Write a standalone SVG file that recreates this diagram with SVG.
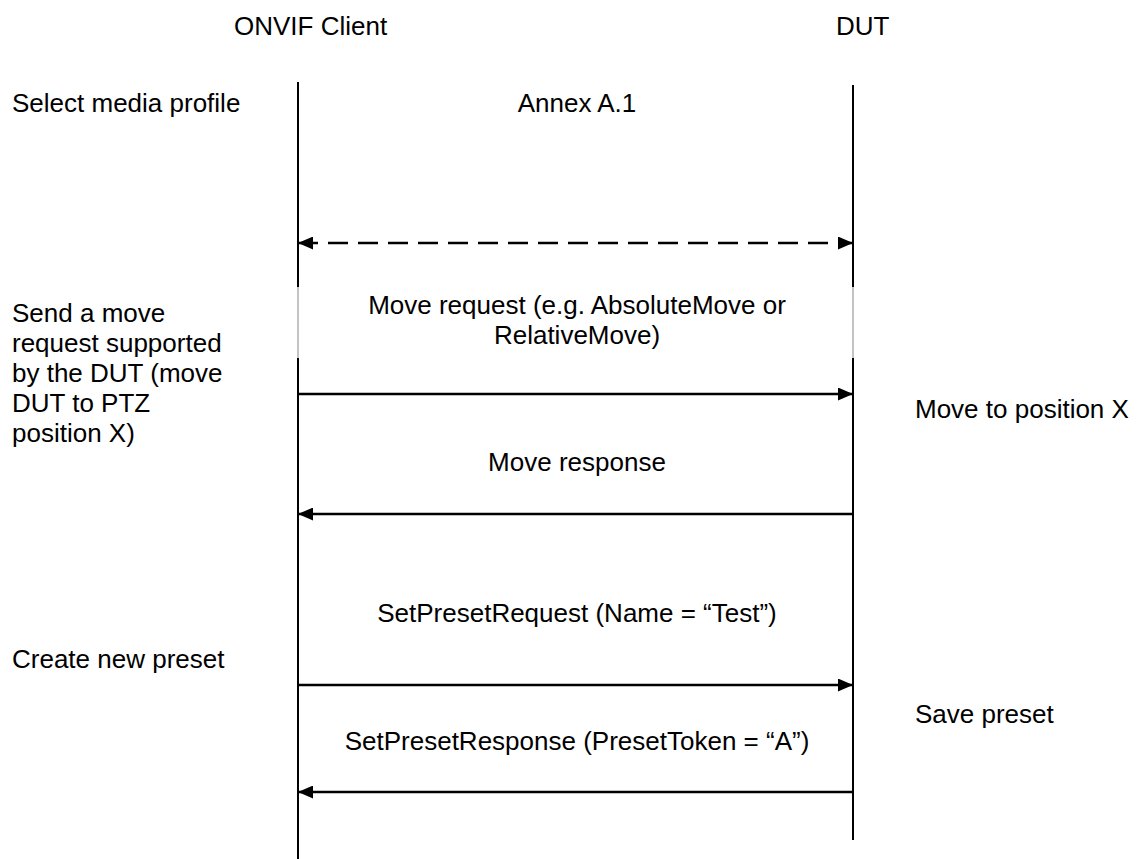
<svg xmlns="http://www.w3.org/2000/svg" width="1141" height="859" viewBox="0 0 1141 859">
<style>
  text { font-family: "Liberation Sans", Arial, sans-serif; font-size: 26px; fill: #000; }
  .mid { text-anchor: middle; }
  .life { stroke: #000; stroke-width: 2; fill: none; }
  .thin { stroke: #888; stroke-width: 1; fill: none; }
  .msg { stroke: #000; stroke-width: 2.5; fill: none; }
  .dash { stroke: #000; stroke-width: 2.5; fill: none; stroke-dasharray: 20 10; }
</style>
<defs>
  <marker id="ah" viewBox="0 0 15 13" refX="15" refY="6.5" markerWidth="15" markerHeight="13" markerUnits="userSpaceOnUse" orient="auto-start-reverse">
    <path d="M0,0 L15,6.5 L0,13 Z" fill="#000"/>
  </marker>
</defs>
<rect width="1141" height="859" fill="#fff"/>
<g id="client">
  <text x="234" y="35">ONVIF Client</text>
  <path class="life" d="M298,82 V287"/>
  <path class="thin" d="M298,287 V358"/>
  <path class="life" d="M298,358 V859"/>
</g>
<g id="dut">
  <text x="836" y="35">DUT</text>
  <path class="life" d="M853,85 V287"/>
  <path class="thin" d="M853,287 V358"/>
  <path class="life" d="M853,358 V840"/>
</g>
<g id="steps">
  <text x="12" y="112">Select media profile</text>
  <text x="12" y="322">Send a move</text>
  <text x="12" y="352">request supported</text>
  <text x="12" y="382">by the DUT (move</text>
  <text x="12" y="412">DUT to PTZ</text>
  <text x="12" y="442">position X)</text>
  <text x="12" y="668">Create new preset</text>
  <text x="915" y="418">Move to position X</text>
  <text x="915" y="723">Save preset</text>
</g>
<g id="connectors">
  <text class="mid" x="577" y="112">Annex A.1</text>
  <path class="dash" d="M298,243 H853" marker-start="url(#ah)" marker-end="url(#ah)"/>
  <text class="mid" x="577" y="314">Move request (e.g. AbsoluteMove or</text>
  <text class="mid" x="577" y="344">RelativeMove)</text>
  <path class="msg" d="M298,394 H853" marker-end="url(#ah)"/>
  <text class="mid" x="577" y="471">Move response</text>
  <path class="msg" d="M853,514 H298" marker-end="url(#ah)"/>
  <text class="mid" x="577" y="622">SetPresetRequest (Name = “Test”)</text>
  <path class="msg" d="M298,685 H853" marker-end="url(#ah)"/>
  <text class="mid" x="577" y="750">SetPresetResponse (PresetToken = “A”)</text>
  <path class="msg" d="M853,792 H298" marker-end="url(#ah)"/>
</g>
</svg>
